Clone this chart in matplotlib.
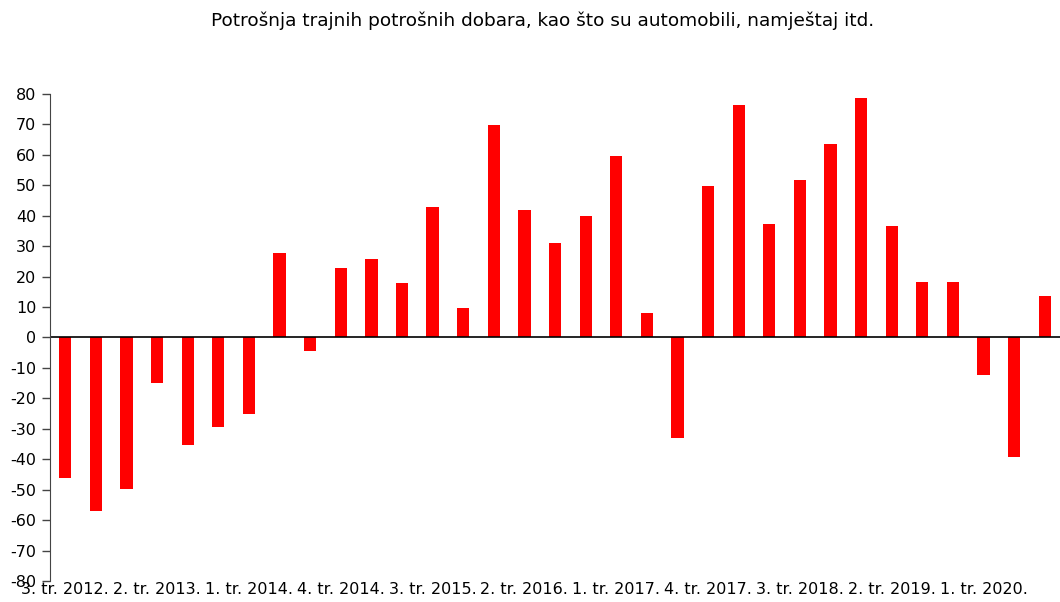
import numpy as np
import matplotlib
matplotlib.use('Agg')
import matplotlib.pyplot as plt

plt.rcParams['font.family'] = ['DejaVu Sans']

# quarters 3. tr. 2012 .. 3. tr. 2020
quarters = []
for y in range(2012, 2021):
    for q in range(1, 5):
        if (y == 2012 and q < 3) or (y == 2020 and q > 3):
            continue
        quarters.append('%d. tr. %d.' % (q, y))

values = [-46.3, -57.1, -49.8, -15.0, -35.3, -29.4, -25.1, 27.7, -4.3, 22.9,
          25.7, 17.9, 42.9, 9.6, 69.7, 41.9, 31.1, 39.8, 59.7, 8.2,
          -32.9, 49.9, 76.4, 37.3, 51.7, 63.6, 78.6, 36.5, 18.2, 18.3,
          -12.4, -39.3, 13.6]

yticks = list(range(-80, 81, 10))
title = 'Potrošnja trajnih potrošnih dobara, kao što su automobili, namještaj itd.'

fig = plt.figure(figsize=(10.6, 6.02), dpi=100)
ax = fig.add_axes([0.0472, 0.0349, 0.9528, 0.809])

x = np.arange(len(values))
ax.bar(x, values, width=0.4, color='#ff0000')
ax.axhline(0, color='black', lw=1.2)

ax.set_xlim(-0.5, len(values) - 0.5)
ax.set_ylim(-80, 80)
ax.set_yticks(yticks)
ax.set_yticklabels([str(t) for t in yticks], fontsize=11.5)
ax.tick_params(axis='y', length=6, width=1, color='#444444', pad=4)

ax.set_xticks(x[::3])
ax.set_xticklabels(quarters[::3], fontsize=11.5)
ax.tick_params(axis='x', length=0, pad=1)

for s in ['top', 'right', 'bottom']:
    ax.spines[s].set_visible(False)
ax.spines['left'].set_color('#444444')

fig.text(0.512, 0.966, title, ha='center', va='center', fontsize=13.3)

fig.savefig('out.png', dpi=100)
